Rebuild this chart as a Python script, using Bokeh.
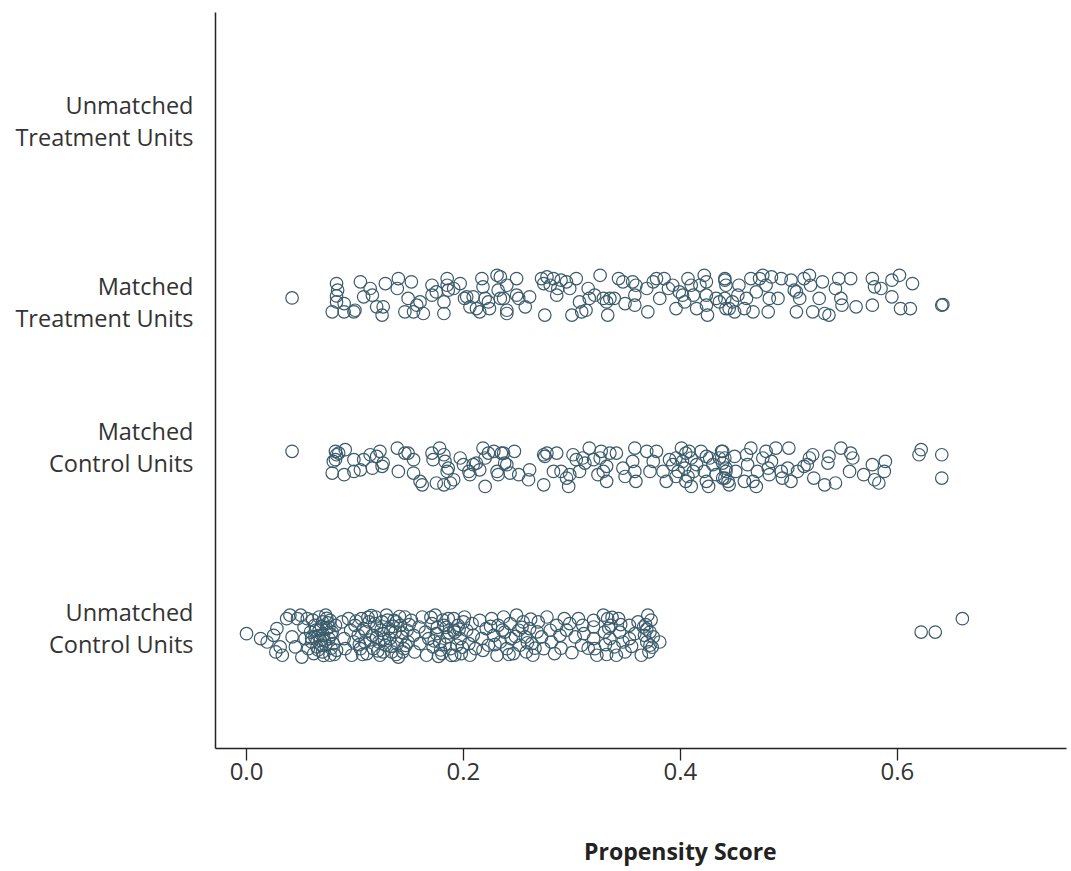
from bokeh.plotting import figure
from bokeh.models import Range1d, FixedTicker, NumeralTickFormatter, LinearAxis
from bokeh.embed import file_html
from bokeh.resources import INLINE

# ---- categories / tick labels ----
categories = ["Unmatched\nTreatment Units", "Matched\nTreatment Units",
              "Matched\nControl Units", "Unmatched\nControl Units"]
x_ticks = [0.0, 0.2, 0.4, 0.6]
x_title = "Propensity Score"

# ---- Matched Treatment Units: propensity score, vertical jitter ----
mt_score = [0.042, 0.083, 0.084, 0.083, 0.083, 0.079, 0.090, 0.090, 0.099, 0.100, 0.105, 0.108,
            0.114, 0.116, 0.120, 0.125, 0.126, 0.128, 0.139, 0.140, 0.146, 0.149, 0.152, 0.154,
            0.157, 0.160, 0.163, 0.171, 0.171, 0.175, 0.182, 0.182, 0.185, 0.185, 0.186, 0.191,
            0.197, 0.201, 0.203, 0.206, 0.209, 0.212, 0.215, 0.217, 0.218, 0.220, 0.223, 0.224,
            0.231, 0.232, 0.234, 0.240, 0.240,
            0.234, 0.237, 0.240, 0.249, 0.249, 0.251, 0.257, 0.261, 0.272, 0.274, 0.275, 0.277,
            0.280, 0.283, 0.286, 0.287, 0.290, 0.295, 0.298, 0.300, 0.304, 0.307, 0.309, 0.313,
            0.315, 0.316, 0.321, 0.326, 0.329, 0.332, 0.333, 0.335, 0.339, 0.343, 0.347, 0.349,
            0.356, 0.358, 0.358, 0.359, 0.369, 0.370, 0.375, 0.378, 0.381, 0.385, 0.389, 0.393,
            0.396, 0.399, 0.402, 0.404, 0.407, 0.410, 0.412, 0.415, 0.418, 0.422, 0.424, 0.424,
            0.424, 0.425, 0.433, 0.436, 0.441, 0.442, 0.445,
            0.441, 0.441, 0.442, 0.448, 0.450, 0.453, 0.454, 0.459, 0.461, 0.465, 0.467, 0.470,
            0.473, 0.476, 0.479, 0.481, 0.482, 0.484, 0.490, 0.493, 0.502, 0.505, 0.507, 0.507,
            0.510, 0.514, 0.519, 0.520, 0.522, 0.528, 0.531, 0.533, 0.537, 0.543, 0.546, 0.548,
            0.549, 0.557, 0.562, 0.577, 0.579, 0.577, 0.585, 0.595, 0.595, 0.602, 0.603, 0.612,
            0.614, 0.641, 0.642]
mt_jitter = [-0.15, 0.64, 0.28, -0.04, -0.37, -0.92, -0.92, -0.46, -0.92, -0.83, 0.74, -0.09,
             0.37, 0.00, -0.64, -1.10, -0.64, 0.64, 0.37, 0.92, -0.92, -0.18, 0.74, -0.92,
             -0.55, -0.37, -1.01, 0.55, 0.00, 0.18, -1.01, -0.37, 0.92, 0.55, 0.28, 0.37,
             0.64, -0.18, -0.09, -0.64, -0.09, -0.74, -0.92, 0.92, 0.46, -0.18, -0.37, -0.74,
             1.10, 0.28, -0.18, 0.55, -1.01,
             1.01, -0.18, -0.83, 0.92, 0.00, -0.18, -0.64, -0.09, 0.92, 0.64, -1.10, 1.01,
             0.55, 0.92, 0.00, 0.37, 0.83, 0.74, 0.37, -1.10, 0.92, -0.37, -0.92, -0.83,
             0.37, -0.18, 0.00, 1.10, -0.18, -0.37, -1.10, -0.18, -0.18, 0.92, 0.74, -0.46,
             0.74, 0.00, -0.55, 0.55, 0.37, -0.92, 0.74, 0.92, -0.18, 0.92, 0.37, 0.55,
             -0.74, 0.18, 0.00, -0.37, 0.92, 0.55, 0.00, -0.74, 0.55, 1.10, 0.74, 0.00,
             -0.55, -1.10, -0.18, -0.37, 0.92, 0.55, -0.74,
             0.83, -0.18, -0.74, -0.37, -0.92, 0.00, 0.55, -0.74, -0.18, 0.92, -0.92, 0.18,
             0.92, 1.10, 0.55, -0.92, -0.18, 1.01, -0.18, 0.92, 0.83, 0.28, 0.18, -0.92,
             -0.18, 0.92, 1.10, 0.55, -0.92, -0.18, 0.74, -1.01, -1.10, 0.37, 0.92, -0.18,
             -0.55, 0.92, -0.64, 0.92, 0.46, -0.55, 0.37, -0.09, 0.83, 1.10, -0.74, -0.74,
             0.64, -0.55, -0.52]

# ---- Matched Control Units ----
mc_score = [0.042, 0.082, 0.083, 0.082, 0.085, 0.080, 0.091, 0.079, 0.090, 0.099, 0.099, 0.105,
            0.108, 0.114, 0.116, 0.120, 0.123, 0.125, 0.126, 0.139, 0.140, 0.146, 0.149, 0.154,
            0.154, 0.160, 0.162, 0.171, 0.172, 0.175, 0.178, 0.182, 0.182, 0.183, 0.185, 0.186,
            0.188, 0.191, 0.197, 0.200, 0.205, 0.206, 0.209, 0.212, 0.215, 0.218, 0.220, 0.220,
            0.223, 0.228, 0.231, 0.232, 0.235, 0.240,
            0.237, 0.238, 0.247, 0.243, 0.251, 0.261, 0.260, 0.274, 0.274, 0.275, 0.277, 0.283,
            0.286, 0.290, 0.295, 0.297, 0.298, 0.301, 0.304, 0.307, 0.310, 0.312, 0.316, 0.320,
            0.324, 0.326, 0.327, 0.329, 0.332, 0.332, 0.335, 0.341, 0.347, 0.349, 0.356, 0.358,
            0.358, 0.359, 0.369, 0.372, 0.375, 0.378, 0.384, 0.387, 0.390, 0.396, 0.398, 0.401,
            0.402, 0.404, 0.405, 0.408, 0.410, 0.412, 0.415, 0.419, 0.422, 0.424, 0.427, 0.430,
            0.433, 0.438, 0.439, 0.442, 0.444, 0.405, 0.407, 0.410, 0.424, 0.426, 0.436, 0.439,
            0.393, 0.396,
            0.439, 0.441, 0.442, 0.441, 0.445, 0.450, 0.451, 0.459, 0.461, 0.462, 0.465, 0.467,
            0.470, 0.471, 0.476, 0.479, 0.481, 0.482, 0.484, 0.488, 0.493, 0.494, 0.499, 0.500,
            0.502, 0.508, 0.514, 0.517, 0.519, 0.522, 0.523, 0.533, 0.536, 0.537, 0.543, 0.548,
            0.556, 0.557, 0.559, 0.569, 0.577, 0.579, 0.583, 0.588, 0.589, 0.620, 0.622, 0.641,
            0.641]
mc_jitter = [0.87, 0.87, 0.68, 0.41, 0.77, 0.31, 0.96, -0.33, -0.42, 0.41, -0.24, -0.15,
             0.41, 0.68, -0.06, 0.59, 0.87, 0.04, 0.22, 1.05, -0.24, 0.77, 0.77, 0.41,
             -0.33, -0.79, -0.98, 0.77, 0.41, -0.88, 1.05, 0.68, -0.98, 0.31, -0.24, -0.06,
             -0.88, -0.70, 0.50, 0.13, -0.24, -0.42, 0.13, 0.22, -0.15, 1.05, 0.50, -1.07,
             0.77, 0.87, -0.24, -0.42, 0.77, 0.13,
             0.77, 0.22, 0.87, -0.33, -0.42, -0.15, -0.70, -0.98, 0.68, 0.59, 0.77, -0.24,
             0.77, -0.24, -0.61, -1.07, -0.42, 0.68, 0.41, -0.24, 0.50, 0.22, 1.05, 0.41,
             -0.42, 0.50, 0.87, -0.24, 0.04, -0.79, 0.77, 0.77, -0.06, -0.52, 0.31, -0.24,
             1.05, -0.79, 0.87, -0.24, 0.31, 0.87, -0.24, -0.79, 0.41, 0.50, -0.24, 1.05,
             0.31, -0.06, -0.79, 0.87, 0.50, -0.24, 0.13, 0.87, -0.24, -0.79, 0.50, 0.13,
             -0.42, 0.87, 0.22, -0.24, -0.79, 0.77, -0.52, -1.07, 0.59, -1.07, 0.50, -0.61,
             0.13, -0.52,
             0.87, 0.50, -0.06, -0.61, -0.98, 0.59, -0.24, -0.79, 0.68, 0.13, 1.05, -0.79,
             -1.07, -0.24, 0.50, 0.87, -0.06, -0.42, 0.31, 1.05, -0.24, -0.61, -0.06, 1.05,
             -0.79, -0.24, 0.04, 0.13, 0.50, 0.68, -0.61, -0.98, 0.22, 0.59, -0.88, 1.05,
             -0.24, 0.77, 0.50, -0.42, 0.13, -0.70, -0.88, -0.24, 0.31, 0.68, 0.96, 0.68,
             -0.61]

# ---- Unmatched Control Units ----
uc_score = [0.000, 0.013, 0.019, 0.025, 0.027, 0.028, 0.031, 0.033, 0.037, 0.040, 0.042, 0.045,
            0.047, 0.050, 0.051, 0.053, 0.054, 0.056, 0.057, 0.059, 0.060, 0.062, 0.063, 0.063,
            0.065, 0.067, 0.067, 0.068, 0.070, 0.070, 0.071, 0.073, 0.073, 0.074, 0.076, 0.077,
            0.077, 0.079, 0.080, 0.082, 0.083, 0.088, 0.090, 0.091, 0.094, 0.096, 0.097, 0.099,
            0.100, 0.103, 0.105, 0.106, 0.108, 0.109, 0.111, 0.113, 0.116, 0.117, 0.119, 0.120,
            0.122, 0.123, 0.125, 0.126, 0.128, 0.129, 0.131, 0.132, 0.134, 0.136, 0.137, 0.139,
            0.140, 0.142, 0.143, 0.145, 0.146, 0.148, 0.149, 0.152, 0.154, 0.155, 0.159, 0.160,
            0.162, 0.165, 0.166, 0.168, 0.171, 0.172, 0.174, 0.175, 0.178, 0.180, 0.182, 0.185,
            0.186, 0.188, 0.191, 0.192,
            0.191, 0.192, 0.194, 0.195, 0.197, 0.198, 0.201, 0.203, 0.205, 0.206, 0.208, 0.209,
            0.211, 0.215, 0.217, 0.218, 0.221, 0.223, 0.226, 0.228, 0.231, 0.232, 0.234, 0.237,
            0.238, 0.240, 0.243, 0.244, 0.246, 0.249, 0.251, 0.252, 0.255, 0.257, 0.258, 0.261,
            0.263, 0.264, 0.269, 0.272, 0.274, 0.277, 0.280, 0.281, 0.284, 0.286, 0.289, 0.293,
            0.298, 0.303, 0.306, 0.309, 0.310, 0.320, 0.320, 0.320, 0.321, 0.323, 0.329, 0.330,
            0.333, 0.335, 0.336, 0.339, 0.341, 0.343, 0.344, 0.347, 0.349, 0.353, 0.353, 0.361,
            0.364, 0.366, 0.367, 0.369, 0.370, 0.372, 0.372, 0.375, 0.381, 0.622, 0.635, 0.660,
            0.061, 0.064, 0.066, 0.069, 0.072, 0.075, 0.078, 0.066, 0.071, 0.074, 0.078, 0.081,
            0.060, 0.069, 0.076,
            0.101, 0.104, 0.107, 0.110, 0.112, 0.114, 0.118, 0.121, 0.124, 0.127, 0.130, 0.133,
            0.135, 0.138, 0.141, 0.144, 0.147, 0.150, 0.133, 0.138, 0.126, 0.120, 0.115, 0.144,
            0.170, 0.173, 0.176, 0.179, 0.181, 0.183, 0.187, 0.189, 0.177, 0.184, 0.196, 0.199,
            0.200,
            0.225, 0.229, 0.236, 0.242, 0.248, 0.254, 0.259, 0.262, 0.266, 0.268,
            0.331, 0.334, 0.337, 0.332, 0.368, 0.371, 0.373, 0.369, 0.374, 0.345,
            0.290, 0.295, 0.300, 0.311, 0.315, 0.355, 0.358]
uc_jitter = [0.20, -0.07, -0.26, 0.11, -0.81, 0.48, -0.53, -0.99, 1.03, 1.22, 0.02, -0.53,
             1.03, 1.22, -1.09, 0.57, -0.07, 1.03, -0.63, 0.29, -0.26, -0.90, 0.66, 0.02,
             -0.53, 1.12, 0.39, -0.17, -0.81, 0.85, 0.11, -0.44, 1.22, 0.48, -0.07, -0.99,
             0.94, 0.29, -0.35, 0.66, -0.72, 0.85, -0.07, -0.63, 1.03, 0.39, -0.99, -0.26,
             0.66, 0.11, -0.63, 1.03, 0.48, -0.26, -0.90, 0.85, 0.11, -0.63, 1.12, 0.57,
             -0.26, -0.99, 0.85, 0.20, -0.44, 1.22, 0.48, -0.07, -0.81, 0.94, 0.29, -0.35,
             -1.09, 0.66, 0.02, -0.63, 1.12, 0.39, -0.26, 0.94, 0.11, -0.81, 0.57, -0.35,
             1.12, 0.29, -0.99, -0.07, 0.76, -0.53, 1.22, 0.20, -0.26, -0.90, 0.66, 0.02,
             1.03, -0.63, 0.39, -0.99,
             1.03, 0.29, -0.44, 0.66, -0.07, -0.90, 1.12, 0.39, -0.35, -0.99, 0.76, 0.11,
             -0.63, 0.94, -0.07, -0.72, 0.48, -0.44, 1.03, 0.11, -0.99, 0.66, -0.26, 1.12,
             0.29, -0.63, 0.76, -0.07, -0.90, 1.22, 0.39, -0.44, 0.85, 0.02, -0.81, 0.48,
             -0.35, -0.99, 0.85, 0.02, -0.63, 1.12, 0.39, -0.26, -0.90, 0.66, 0.11, 1.03,
             0.76, 0.02, 1.03, -0.44, 0.66, 0.94, 0.57, -0.07, -0.63, -0.99, 1.22, 0.29,
             1.03, -0.07, 0.66, -0.53, -0.99, 1.03, 0.29, -0.26, -0.81, 0.66, -0.07, 0.85,
             -0.99, 0.57, 0.11, -0.26, 1.22, 0.29, -0.44, 0.02, -0.26, 0.29, 0.29, 1.03,
             0.95, 0.40, -0.70, 0.60, -0.20, 0.80, -0.60, 0.10, -1.00, 1.05, 0.15, -0.95,
             -0.05, -0.45, 0.55,
             0.90, -0.40, -0.95, 0.30, 1.10, -0.15, 0.75, -0.75, 0.40, -0.10, 0.95, -0.50,
             0.60, -0.95, 1.15, 0.25, -0.45, 0.70, 0.30, 0.85, -0.80, 0.00, 1.20, -0.80,
             1.10, -0.20, 0.55, -0.70, 0.95, -0.40, 0.25, -1.00, -1.05, 0.55, 0.45, -0.55,
             0.85,
             0.60, -0.40, 0.40, -0.95, 0.05, 0.55, -0.30, 1.00, -0.60, 0.30,
             -0.40, 0.50, 1.10, -0.95, 0.70, -0.80, 0.95, 0.45, -0.55, 0.70,
             -0.60, 0.40, -0.85, 0.20, -0.60, -0.50, 0.20]

# ---- layout (category positions on the vertical axis) ----
cat_tick = [40, 30, 22, 12]
mt_center, mc_center, uc_center = 30.39, 20.9, 11.5

FONT = "Open Sans"
COL = "#3b5b6b"
X0, X1 = -0.0286, 0.756

p = figure(width=1071, height=871, output_backend="svg", toolbar_location=None,
           x_range=Range1d(X0, X1), y_range=Range1d(5.36, 46.0),
           min_border_left=215, min_border_right=5, min_border_top=12, min_border_bottom=123)

for scores, jit, c in ((mt_score, mt_jitter, mt_center),
                       (mc_score, mc_jitter, mc_center),
                       (uc_score, uc_jitter, uc_center)):
    p.scatter(x=scores, y=[c + j for j in jit], marker="circle", size=12.5,
              fill_color=None, line_color=COL, line_width=1.2)

p.xgrid.visible = False
p.ygrid.visible = False
p.outline_line_color = None
p.background_fill_color = "white"
p.border_fill_color = "white"

xa = p.xaxis[0]
xa.ticker = FixedTicker(ticks=x_ticks)
xa.formatter = NumeralTickFormatter(format="0.0")
xa.minor_tick_line_color = None
xa.major_tick_in = 0
xa.major_tick_out = 12
xa.major_tick_line_color = "#222222"
xa.major_tick_line_width = 1.3
xa.axis_line_color = "#222222"
xa.axis_line_width = 1.5
xa.major_label_text_font = FONT
xa.major_label_text_font_size = "24px"
xa.major_label_text_color = "#333333"
xa.major_label_standoff = 2

# bare second bottom axis carrying the axis title as a single label under x = 0.4
# (a tenfold copy of the x range, so the label sits on an integer tick)
p.extra_x_ranges = {"title": Range1d(X0 * 10, X1 * 10)}
title_axis = LinearAxis(x_range_name="title", ticker=FixedTicker(ticks=[4]),
                        major_label_overrides={4: x_title},
                        axis_line_color=None, major_tick_line_color=None,
                        minor_tick_line_color=None, major_tick_out=0, major_tick_in=0,
                        minor_tick_out=0, minor_tick_in=0, major_label_standoff=52,
                        major_label_text_font=FONT, major_label_text_font_style="bold",
                        major_label_text_font_size="23px", major_label_text_color="#222222")
p.add_layout(title_axis, "below")

ya = p.yaxis[0]
ya.ticker = FixedTicker(ticks=cat_tick)
ya.major_label_overrides = {t: lab for t, lab in zip(cat_tick, categories)}
ya.minor_tick_line_color = None
ya.major_tick_line_color = None
ya.major_tick_in = 0
ya.major_tick_out = 0
ya.axis_line_color = "#222222"
ya.axis_line_width = 1.5
ya.major_label_text_font = FONT
ya.major_label_text_font_size = "23.5px"
ya.major_label_text_color = "#333333"
ya.major_label_text_line_height = 1.0
ya.major_label_standoff = 22

open("out.html", "w").write(file_html(p, INLINE))
